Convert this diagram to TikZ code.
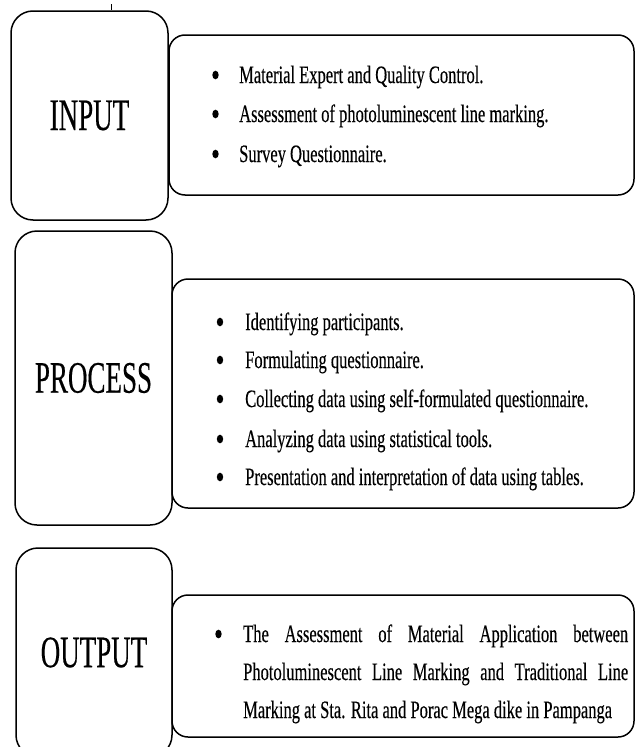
\documentclass[tikz,border=0pt]{standalone}
\usepackage{fontspec}
\setmainfont[FakeStretch=0.66,FakeBold=0.3]{Liberation Serif}
\newfontfamily\headfont[FakeStretch=0.6,FakeBold=0.3]{Liberation Serif}
\begin{document}
\begin{tikzpicture}[x=1pt,y=-1pt,
  stage/.style={draw, line width=1.5pt, rounded corners=22pt, inner sep=0pt,
    font=\headfont\fontsize{45}{45}\selectfont},
  detail/.style={draw, line width=1.5pt, rounded corners=16pt, inner sep=0pt},
  item/.style={anchor=base west, inner sep=0pt, font=\fontsize{25}{38}\selectfont},
  dot/.style={fill=black},
]
\useasboundingbox (0,0) rectangle (635,747);
\clip (0,0) rectangle (635,747);

% stage boxes
\node[stage, minimum width=157pt, minimum height=209pt] (input) at (89.5,115.5) {INPUT};
\node[stage, minimum width=157pt, minimum height=294pt] (process) at (93.5,378) {PROCESS};
\node[stage, minimum width=156pt, minimum height=209pt] (output) at (94,652.5) {OUTPUT};
\draw[line width=0.6pt] (111,4) -- (input.north -| 111,0);

% detail boxes
\node[detail, minimum width=465pt, minimum height=160pt] (inputd) at (401.5,115) {};
\node[detail, minimum width=462pt, minimum height=229pt] (processd) at (403,393.5) {};
\node[detail, minimum width=462pt, minimum height=142pt] (outputd) at (403,666) {};

% input items
\node[item] (in1) at (239,83)  {Material Expert and Quality Control.};
\node[item] (in2) at (239,122) {Assessment of photoluminescent line marking.};
\node[item] (in3) at (239,162) {Survey Questionnaire.};

% process items
\node[item] (pr1) at (245,330) {Identifying participants.};
\node[item] (pr2) at (245,368) {Formulating questionnaire.};
\node[item] (pr3) at (245,407) {Collecting data using self-formulated questionnaire.};
\node[item] (pr4) at (245,447) {Analyzing data using statistical tools.};
\node[item] (pr5) at (245,485) {Presentation and interpretation of data using tables.};

% output item (justified paragraph)
\node[item] (out1) at (243,642) {\makebox[385pt][s]{The Assessment of Material Application between}};
\node[item] (out2) at (243,680) {\makebox[385pt][s]{Photoluminescent Line Marking and Traditional Line}};
\node[item] (out3) at (243,718) {Marking at Sta. Rita and Porac Mega dike in Pampanga};

% bullets
\foreach \n in {in1,in2,in3}
  \fill[dot] ([xshift=-23.5pt,yshift=8pt]\n.base west) ellipse (3.2pt and 4.3pt);
\foreach \n in {pr1,pr2,pr3,pr4,pr5}
  \fill[dot] ([xshift=-25pt,yshift=8pt]\n.base west) ellipse (3.2pt and 4.3pt);
\fill[dot] ([xshift=-24.5pt,yshift=8pt]out1.base west) ellipse (3.2pt and 4.3pt);
\end{tikzpicture}
\end{document}
